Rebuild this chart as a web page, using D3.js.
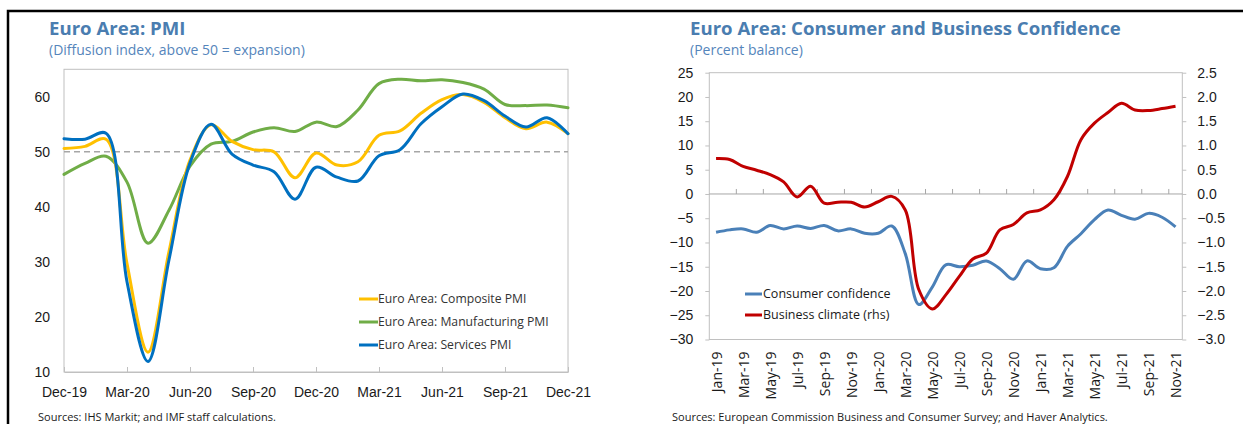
<!DOCTYPE html>
<html><head><meta charset="utf-8">
<script src="https://cdn.jsdelivr.net/npm/d3@7"></script>
<style>
html,body{margin:0;padding:0;background:#fff;}
svg{display:block;font-family:"Open Sans","Noto Sans",sans-serif;}
</style></head>
<body>
<svg id="c" width="1243" height="424"></svg>
<script>
// ---------- Left chart data: Euro Area PMI ----------
const pmiMonths = ["Dec-19","Jan-20","Feb-20","Mar-20","Apr-20","May-20","Jun-20","Jul-20","Aug-20","Sep-20","Oct-20","Nov-20","Dec-20",
  "Jan-21","Feb-21","Mar-21","Apr-21","May-21","Jun-21","Jul-21","Aug-21","Sep-21","Oct-21","Nov-21","Dec-21"];
const pmiTickLabels = ["Dec-19","Mar-20","Jun-20","Sep-20","Dec-20","Mar-21","Jun-21","Sep-21","Dec-21"];
const composite =     [50.6,51.0,52.3,29.7,13.6,31.9,48.5,54.9,51.9,50.4,50.0,45.3,49.8,47.6,48.2,53.0,53.8,57.0,59.5,60.4,59.0,56.2,54.2,55.4,53.3];
const manufacturing = [45.9,47.9,49.2,44.5,33.4,39.4,47.4,51.4,51.9,53.6,54.4,53.7,55.4,54.6,57.6,62.4,63.2,62.9,63.1,62.6,61.4,58.6,58.4,58.5,58.0];
const services =      [52.4,52.3,53.4,26.4,11.9,30.4,48.0,55.0,49.6,47.6,46.4,41.4,47.2,45.4,44.7,49.3,50.4,55.1,58.2,60.5,59.3,56.5,54.5,56.2,53.3];
const pmiYTicks = [10,20,30,40,50,60];

// ---------- Right chart data: Consumer & Business Confidence ----------
const confMonths = ["Jan-19","Feb-19","Mar-19","Apr-19","May-19","Jun-19","Jul-19","Aug-19","Sep-19","Oct-19","Nov-19","Dec-19",
  "Jan-20","Feb-20","Mar-20","Apr-20","May-20","Jun-20","Jul-20","Aug-20","Sep-20","Oct-20","Nov-20","Dec-20",
  "Jan-21","Feb-21","Mar-21","Apr-21","May-21","Jun-21","Jul-21","Aug-21","Sep-21","Oct-21","Nov-21"];
const consumer = [-7.9,-7.4,-7.2,-7.9,-6.5,-7.2,-6.6,-7.1,-6.5,-7.6,-7.2,-8.1,
  -8.1,-6.6,-12.3,-22.8,-19.2,-14.6,-15.0,-14.7,-13.8,-15.4,-17.6,-13.8,
  -15.4,-15.2,-10.8,-8.2,-5.3,-3.3,-4.4,-5.2,-4.0,-4.8,-6.8];
const business = [0.73,0.71,0.57,0.49,0.40,0.25,-0.06,0.16,-0.19,-0.17,-0.17,-0.27,
  -0.16,-0.05,-0.33,-1.97,-2.37,-2.08,-1.70,-1.34,-1.22,-0.74,-0.63,-0.39,
  -0.33,-0.12,0.36,1.12,1.46,1.68,1.87,1.73,1.72,1.76,1.81];
const confYLeftTicks = [25,20,15,10,5,0,-5,-10,-15,-20,-25,-30];
const confYRightTicks = [2.5,2.0,1.5,1.0,0.5,0.0,-0.5,-1.0,-1.5,-2.0,-2.5,-3.0];

const svg = d3.select("#c");
const titleColor = "#4a7db0", subColor = "#5585bb", boxColor = "#c0c0c0", textColor = "#1a1a1a";

// Frame
svg.append("path").attr("d","M8,424V11H1243").attr("fill","none").attr("stroke","#000").attr("stroke-width",2.5);

// ================= LEFT CHART =================
const L = {x0:64, x1:568, y0:69.3, y1:372};
svg.append("text").attr("x",49).attr("y",35).attr("fill",titleColor).attr("font-weight","bold").attr("font-size",18.6).text("Euro Area: PMI");
svg.append("text").attr("x",49).attr("y",55).attr("fill",subColor).attr("font-size",14).text("(Diffusion index, above 50 = expansion)");

const xL = d3.scalePoint().domain(pmiMonths).range([L.x0, L.x1]);
const yL = d3.scaleLinear().domain([10,65]).range([L.y1, L.y0]);

svg.append("rect").attr("x",L.x0).attr("y",L.y0).attr("width",L.x1-L.x0).attr("height",L.y1-L.y0)
  .attr("fill","none").attr("stroke",boxColor).attr("stroke-width",1);

const axL = svg.append("g").attr("transform",`translate(0,${L.y1})`)
  .call(d3.axisBottom(xL).tickValues(pmiTickLabels).tickSizeInner(-5).tickSizeOuter(0).tickPadding(15));
axL.select(".domain").attr("stroke",boxColor);
axL.selectAll(".tick line").attr("stroke",boxColor);
axL.selectAll(".tick text").attr("font-size",14).attr("fill",textColor).attr("font-family","inherit");

const ayL = svg.append("g").attr("transform",`translate(${L.x0},0)`)
  .call(d3.axisLeft(yL).tickValues(pmiYTicks).tickSize(0).tickPadding(14));
ayL.select(".domain").remove();
ayL.selectAll(".tick text").attr("font-size",14).attr("fill",textColor).attr("font-family","inherit");

svg.append("line").attr("x1",L.x0).attr("x2",L.x1).attr("y1",yL(50)).attr("y2",yL(50))
  .attr("stroke","#a6a6a6").attr("stroke-width",1.5).attr("stroke-dasharray","6,4");

const lineL = d3.line().x((d,i)=>xL(pmiMonths[i])).y(d=>yL(d)).curve(d3.curveCatmullRom.alpha(0.5));
const pmiSeries = [
  {name:"Euro Area: Composite PMI", values:composite, color:"#ffc000"},
  {name:"Euro Area: Manufacturing PMI", values:manufacturing, color:"#70ad47"},
  {name:"Euro Area: Services PMI", values:services, color:"#0070c0"}
];
const drawOrder = [pmiSeries[1], pmiSeries[0], pmiSeries[2]];
drawOrder.forEach(s=>{
  svg.append("path").attr("d",lineL(s.values)).attr("fill","none").attr("stroke",s.color)
    .attr("stroke-width",3).attr("stroke-linejoin","round").attr("stroke-linecap","round");
});
pmiSeries.forEach((s,i)=>{
  const y = 299 + i*23;
  svg.append("line").attr("x1",359).attr("x2",378).attr("y1",y).attr("y2",y).attr("stroke",s.color).attr("stroke-width",3);
  svg.append("text").attr("x",378).attr("y",y).attr("dy","0.35em").attr("font-size",12.2).attr("fill","#333").text(s.name);
});

svg.append("text").attr("x",38).attr("y",421).attr("font-size",11).attr("fill",textColor).text("Sources: IHS Markit; and IMF staff calculations.");

// ================= RIGHT CHART =================
const R = {x0:709.3, x1:1182.3, y0:72.7, y1:339.5};
svg.append("text").attr("x",690).attr("y",35).attr("fill",titleColor).attr("font-weight","bold").attr("font-size",18.6).text("Euro Area: Consumer and Business Confidence");
svg.append("text").attr("x",690).attr("y",55).attr("fill",subColor).attr("font-size",14).text("(Percent balance)");

const xR = d3.scaleBand().domain(confMonths).range([R.x0, R.x1]);
const yRl = d3.scaleLinear().domain([-30,25]).range([R.y1, R.y0]);
const yRr = d3.scaleLinear().domain([-3,2.5]).range([R.y1, R.y0]);

svg.append("rect").attr("x",R.x0).attr("y",R.y0).attr("width",R.x1-R.x0).attr("height",R.y1-R.y0)
  .attr("fill","none").attr("stroke",boxColor).attr("stroke-width",1);

const ayRl = svg.append("g").attr("transform",`translate(${R.x0},0)`)
  .call(d3.axisLeft(yRl).tickValues(confYLeftTicks).tickSize(4).tickPadding(12).tickFormat(d3.format("d")));
ayRl.select(".domain").remove();
ayRl.selectAll(".tick line").attr("stroke",boxColor);
ayRl.selectAll(".tick text").attr("font-size",14).attr("fill",textColor).attr("font-family","inherit");

const ayRr = svg.append("g").attr("transform",`translate(${R.x1},0)`)
  .call(d3.axisRight(yRr).tickValues(confYRightTicks).tickSize(4).tickPadding(11).tickFormat(d3.format(".1f")));
ayRr.select(".domain").remove();
ayRr.selectAll(".tick line").attr("stroke",boxColor);
ayRr.selectAll(".tick text").attr("font-size",14).attr("fill",textColor).attr("font-family","inherit");

// zero axis line with category-boundary ticks
const y0 = yRl(0);
svg.append("line").attr("x1",R.x0).attr("x2",R.x1).attr("y1",y0).attr("y2",y0).attr("stroke","#a6a6a6").attr("stroke-width",1);
const tickMonths = confMonths.filter((d,i)=>i%2===0);
svg.append("g").selectAll("line").data(tickMonths.slice(1)).join("line")
  .attr("x1",d=>xR(d)).attr("x2",d=>xR(d)).attr("y1",y0).attr("y2",y0-5).attr("stroke","#a6a6a6");

// rotated x labels
svg.append("g").selectAll("text").data(tickMonths).join("text")
  .attr("transform",d=>`translate(${xR(d)+xR.bandwidth()/2+1},${R.y1+12}) rotate(-90)`)
  .attr("text-anchor","end").attr("dy","0.35em").attr("font-size",14).attr("fill",textColor).text(d=>d);

const lineC = d3.line().x((d,i)=>xR(confMonths[i])+xR.bandwidth()/2).y(d=>yRl(d)).curve(d3.curveCatmullRom.alpha(0.5));
const lineB = d3.line().x((d,i)=>xR(confMonths[i])+xR.bandwidth()/2).y(d=>yRr(d)).curve(d3.curveCatmullRom.alpha(0.5));
const consColor = "#4a80b8", busColor = "#c00000";
svg.append("path").attr("d",lineC(consumer)).attr("fill","none").attr("stroke",consColor).attr("stroke-width",3).attr("stroke-linejoin","round");
svg.append("path").attr("d",lineB(business)).attr("fill","none").attr("stroke",busColor).attr("stroke-width",3).attr("stroke-linejoin","round");

[{n:"Consumer confidence",c:consColor},{n:"Business climate (rhs)",c:busColor}].forEach((s,i)=>{
  const y = 294 + i*21;
  svg.append("line").attr("x1",745).attr("x2",762).attr("y1",y).attr("y2",y).attr("stroke",s.c).attr("stroke-width",3);
  svg.append("text").attr("x",763).attr("y",y).attr("dy","0.35em").attr("font-size",12.5).attr("fill",textColor).text(s.n);
});

svg.append("text").attr("x",672).attr("y",421).attr("font-size",11).attr("fill",textColor)
  .text("Sources: European Commission Business and Consumer Survey; and Haver Analytics.");
</script>
</body></html>
